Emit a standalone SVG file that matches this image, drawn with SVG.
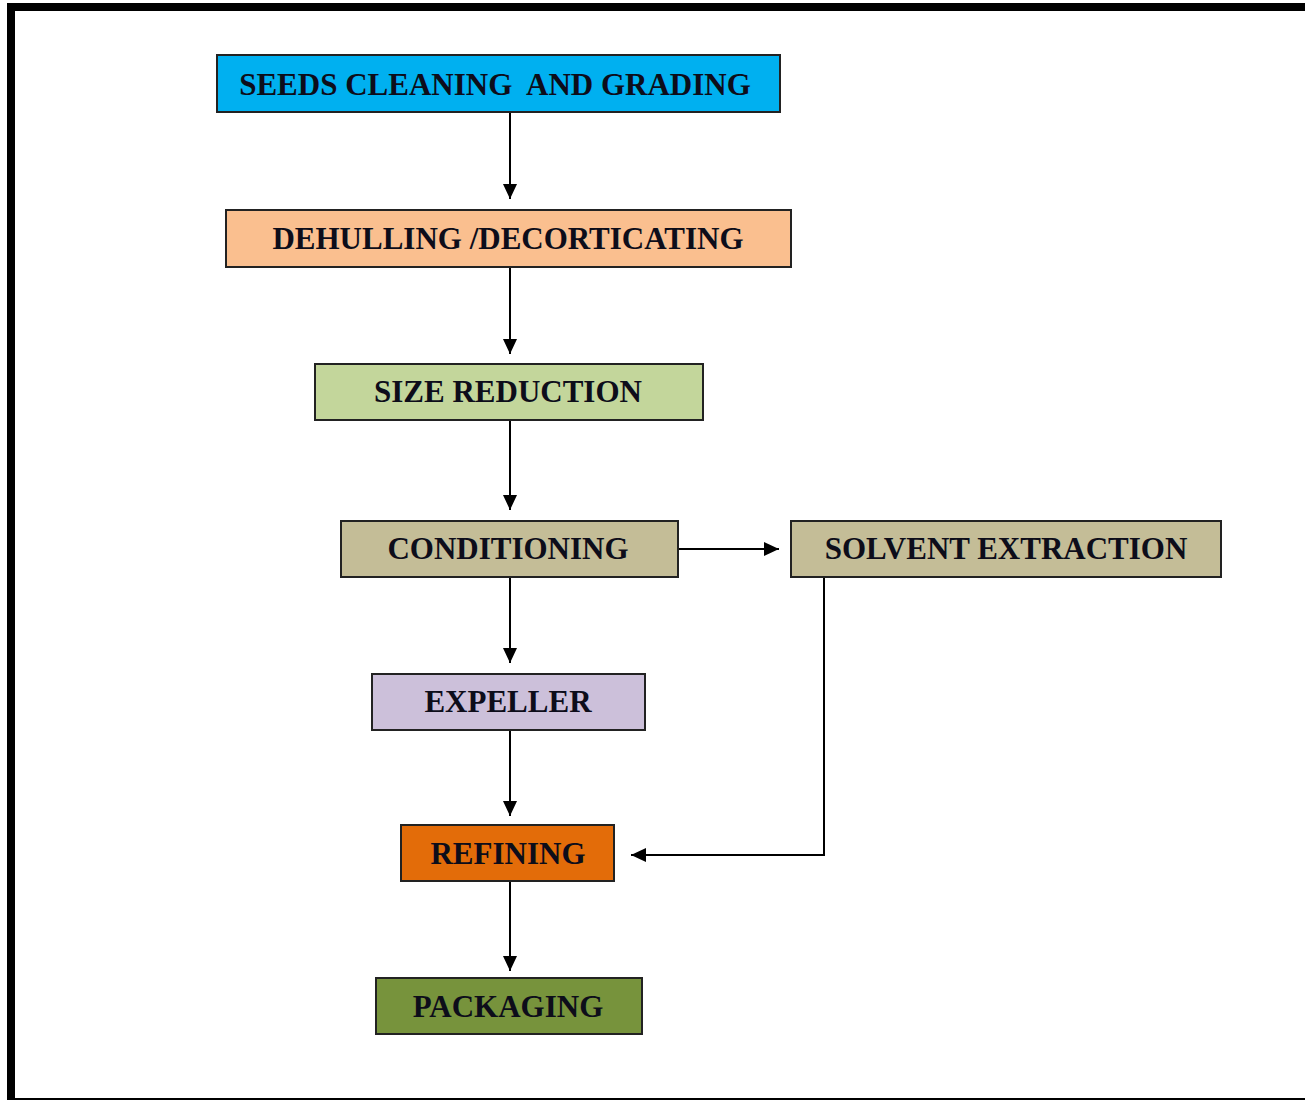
<svg xmlns="http://www.w3.org/2000/svg" width="1305" height="1100" viewBox="0 0 1305 1100">
<defs>
<marker id="ah" markerUnits="userSpaceOnUse" markerWidth="16" markerHeight="14" refX="15" refY="7" orient="auto">
<path d="M0,0 L15,7 L0,14 z" fill="#000"/>
</marker>
<style>
.box{stroke:#222;stroke-width:2}
.lbl{font-family:"Liberation Serif","Times New Roman",serif;font-weight:bold;font-size:31px;fill:#0d0d1a;text-anchor:middle;white-space:pre}
.con{stroke:#000;stroke-width:2;fill:none}
</style>
</defs>
<rect width="1305" height="1100" fill="#fff"/>
<g id="frame">
<rect x="7" y="3" width="1298" height="8" fill="#000"/>
<rect x="7" y="3" width="8" height="1097" fill="#000"/>
<rect x="7" y="1098" width="1298" height="2" fill="#000"/>
</g>
<g id="connectors">
<line class="con" x1="510" y1="112" x2="510" y2="199" marker-end="url(#ah)"/>
<line class="con" x1="510" y1="267" x2="510" y2="354" marker-end="url(#ah)"/>
<line class="con" x1="510" y1="420" x2="510" y2="510" marker-end="url(#ah)"/>
<line class="con" x1="510" y1="577" x2="510" y2="663" marker-end="url(#ah)"/>
<line class="con" x1="510" y1="730" x2="510" y2="816" marker-end="url(#ah)"/>
<line class="con" x1="510" y1="881" x2="510" y2="971" marker-end="url(#ah)"/>
<line class="con" x1="678" y1="549" x2="779" y2="549" marker-end="url(#ah)"/>
<polyline class="con" points="824,577 824,855 631,855" marker-end="url(#ah)"/>
</g>
<g id="n1"><rect class="box" x="217" y="55" width="563" height="57" fill="#00b0f0"/><text class="lbl" x="495" y="95" xml:space="preserve">SEEDS CLEANING  AND GRADING</text></g>
<g id="n2"><rect class="box" x="226" y="210" width="565" height="57" fill="#fabf8f"/><text class="lbl" x="508" y="249">DEHULLING /DECORTICATING</text></g>
<g id="n3"><rect class="box" x="315" y="364" width="388" height="56" fill="#c3d69b"/><text class="lbl" x="508" y="402">SIZE REDUCTION</text></g>
<g id="n4"><rect class="box" x="341" y="521" width="337" height="56" fill="#c4bd97"/><text class="lbl" x="508" y="559">CONDITIONING</text></g>
<g id="n5"><rect class="box" x="791" y="521" width="430" height="56" fill="#c4bd97"/><text class="lbl" x="1006" y="559">SOLVENT EXTRACTION</text></g>
<g id="n6"><rect class="box" x="372" y="674" width="273" height="56" fill="#ccc0da"/><text class="lbl" x="508" y="712">EXPELLER</text></g>
<g id="n7"><rect class="box" x="401" y="825" width="213" height="56" fill="#e36c09"/><text class="lbl" x="508" y="864">REFINING</text></g>
<g id="n8"><rect class="box" x="376" y="978" width="266" height="56" fill="#77933c"/><text class="lbl" x="508" y="1017">PACKAGING</text></g>
</svg>
